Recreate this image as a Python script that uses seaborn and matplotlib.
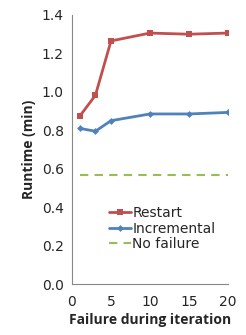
import numpy as np
import pandas as pd
import seaborn as sns
import matplotlib.pyplot as plt

# ------------------------------------------------------------
# Data
# ------------------------------------------------------------
iterations = [1, 3, 5, 10, 15, 20]
restart = [0.874, 0.982, 1.265, 1.306, 1.300, 1.306]
incremental = [0.810, 0.795, 0.850, 0.885, 0.885, 0.893]
no_failure = [0.565, 0.565, 0.565, 0.565, 0.565, 0.565]

x_ticks = [0, 5, 10, 15, 20]
y_ticks = [0.0, 0.2, 0.4, 0.6, 0.8, 1.0, 1.2, 1.4]

df = pd.DataFrame({
    "iteration": iterations * 3,
    "runtime": restart + incremental + no_failure,
    "series": ["Restart"] * 6 + ["Incremental"] * 6 + ["No failure"] * 6,
})

# ------------------------------------------------------------
# Plot
# ------------------------------------------------------------
sns.set_style("white")
plt.rcParams["font.family"] = ["DejaVu Sans"]

fig = plt.figure(figsize=(2.46, 3.35), dpi=100)
ax = fig.add_axes([72 / 246, 1 - 284 / 335, 156 / 246, 269 / 335])

palette = {"Restart": "#c0504d", "Incremental": "#4f81bd", "No failure": "#9bbb59"}
styles = {
    "Restart": dict(marker="s", markersize=5, ls="-", lw=2),
    "Incremental": dict(marker="D", markersize=3.5, ls="-", lw=2),
    "No failure": dict(marker=None, ls=(0, (4, 3)), lw=1.5),
}
for name in ["Restart", "Incremental", "No failure"]:
    sub = df[df["series"] == name]
    st = styles[name]
    sns.lineplot(data=sub, x="iteration", y="runtime", ax=ax, color=palette[name],
                 label=name, marker=st["marker"], markersize=st.get("markersize", 0),
                 linestyle=st["ls"], linewidth=st["lw"], markeredgewidth=0)

ax.set_xlim(0, 20)
ax.set_ylim(0, 1.4)
ax.set_xticks(x_ticks)
ax.set_yticks(y_ticks)
ax.set_yticklabels([f"{v:.1f}" for v in y_ticks])
ax.tick_params(axis="both", labelsize=10, length=3, color="#888888", direction="out", pad=3)
ax.tick_params(axis="x", pad=5)

for s in ["top", "right"]:
    ax.spines[s].set_visible(False)
for s in ["left", "bottom"]:
    ax.spines[s].set_color("#888888")
    ax.spines[s].set_linewidth(0.8)

ax.set_xlabel("Failure during iteration", fontsize=10, fontweight="bold", labelpad=3,
              family="Open Sans")
ax.set_ylabel("Runtime (min)", fontsize=10, fontweight="bold", labelpad=4,
              family="Open Sans")

ax.legend(loc="upper left", bbox_to_anchor=(0.2, 0.31), frameon=False, fontsize=10,
          handlelength=1.6, handletextpad=0.1, labelspacing=0.1, borderaxespad=0)

fig.savefig("out.png", dpi=100)
